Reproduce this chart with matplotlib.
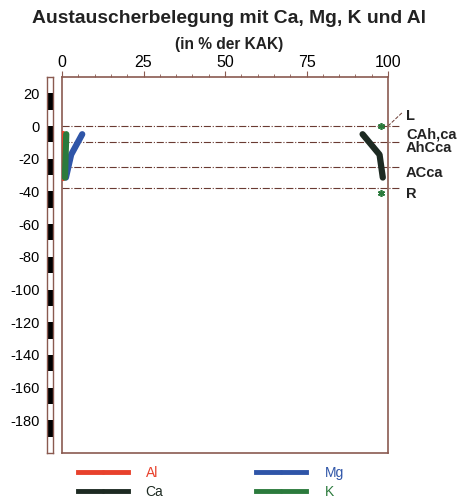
import matplotlib
matplotlib.use('Agg')
import matplotlib.pyplot as plt
from matplotlib.lines import Line2D

plt.rcParams['font.family'] = ['Liberation Sans', 'DejaVu Sans']

# horizon mid depths (cm) and exchanger occupation (% of KAK)
depth = [-5, -17.5, -31.5]
al = [0.3, 0.3, 0.3]
ca = [92.2, 97.4, 98.4]
mg = [6.2, 2.8, 1.2]
k = [1.3, 1.1, 0.9]

# extra K points at L and R
k_extra_depth = [0, -41]
k_extra_val = [97.9, 97.9]

# horizon boundaries and labels
bounds = [0, -10, -25, -38]
hor_names = ['L', 'CAh,ca', 'AhCca', 'ACca', 'R']
hor_label_y = [6, -5, -13.5, -29, -41.5]

yticks = list(range(20, -181, -20))

col_al = '#e8412c'
col_ca = '#1d2a22'
col_mg = '#2f55a8'
col_k = '#2b7a3c'
col_frame = '#8a5a50'
col_hor = '#6a3a32'

fig = plt.figure(figsize=(4.58, 4.99), dpi=100)

ax = fig.add_axes([0.1354, 0.0922, 0.7118, 0.7535])
ax.set_xlim(0, 100)
ax.set_ylim(-200, 30)

for s in ax.spines.values():
    s.set_color(col_frame)
    s.set_linewidth(1.2)

ax.xaxis.tick_top()
ax.set_xticks([0, 25, 50, 75, 100])
ax.set_xticks(range(0, 101, 5), minor=True)
ax.tick_params(axis='x', which='major', length=4, color=col_frame, labelsize=11.5, pad=1)
ax.tick_params(axis='x', which='minor', length=2, color=col_frame)
ax.set_yticks([])

# horizon lines
for b in bounds:
    ax.plot([0, 103.5], [b, b], color=col_hor, lw=0.8, ls='-.', clip_on=False, zorder=2)
ax.plot([100, 104.5], [0, 8.5], color=col_hor, lw=0.7, ls='--', clip_on=False)
for name, yy in zip(hor_names, hor_label_y):
    ax.text(105.5, yy, name, fontsize=10.5, fontweight='bold', color='#222222',
            va='center', ha='left', clip_on=False)

ax.plot(al, depth, color=col_al, lw=4.5, solid_capstyle='round', zorder=3)
ax.plot(mg, depth, color=col_mg, lw=4.5, solid_capstyle='round', zorder=4)
ax.plot(k, depth, color=col_k, lw=4.5, solid_capstyle='round', zorder=5)
ax.plot(ca, depth, color=col_ca, lw=4.5, solid_capstyle='round', zorder=5)
ax.plot(k_extra_val, k_extra_depth, ls='none', marker=(6, 2, 0), ms=5,
        mec=col_k, mew=1.2, zorder=6)

# depth scale bar
sax = fig.add_axes([0.1026, 0.0922, 0.0131, 0.7535])
sax.set_xlim(0, 1)
sax.set_ylim(-200, 30)
for v in yticks:
    sax.axhspan(v - 10, v, color='black', lw=0)
for s in sax.spines.values():
    s.set_color(col_frame)
    s.set_linewidth(1.0)
sax.set_xticks([])
sax.set_yticks(yticks)
sax.set_yticklabels([str(v) for v in yticks])
sax.tick_params(axis='y', length=0, labelsize=10.5, pad=5)

fig.text(0.5, 0.963, 'Austauscherbelegung mit Ca, Mg, K und Al', ha='center', va='center',
         fontsize=13.9, fontweight='bold', color='#222222')
fig.text(0.5, 0.91, '(in % der KAK)', ha='center', va='center',
         fontsize=11.2, fontweight='bold', color='#222222')

handles = [Line2D([], [], color=col_al, lw=3.5, marker='o', ms=2),
           Line2D([], [], color=col_ca, lw=3.5, marker='o', ms=2),
           Line2D([], [], color=col_mg, lw=3.5, marker='o', ms=2),
           Line2D([], [], color=col_k, lw=3.5, marker='o', ms=2)]
leg = fig.legend(handles, ['Al', 'Ca', 'Mg', 'K'], ncol=2, loc='lower left',
                 bbox_to_anchor=(0.142, -0.025), frameon=False, fontsize=10,
                 handlelength=3.6, columnspacing=6.7, labelspacing=0.35,
                 handletextpad=1.3)
for t, c in zip(leg.get_texts(), [col_al, col_ca, col_mg, col_k]):
    t.set_color(c)

fig.savefig('out.png', dpi=100)
